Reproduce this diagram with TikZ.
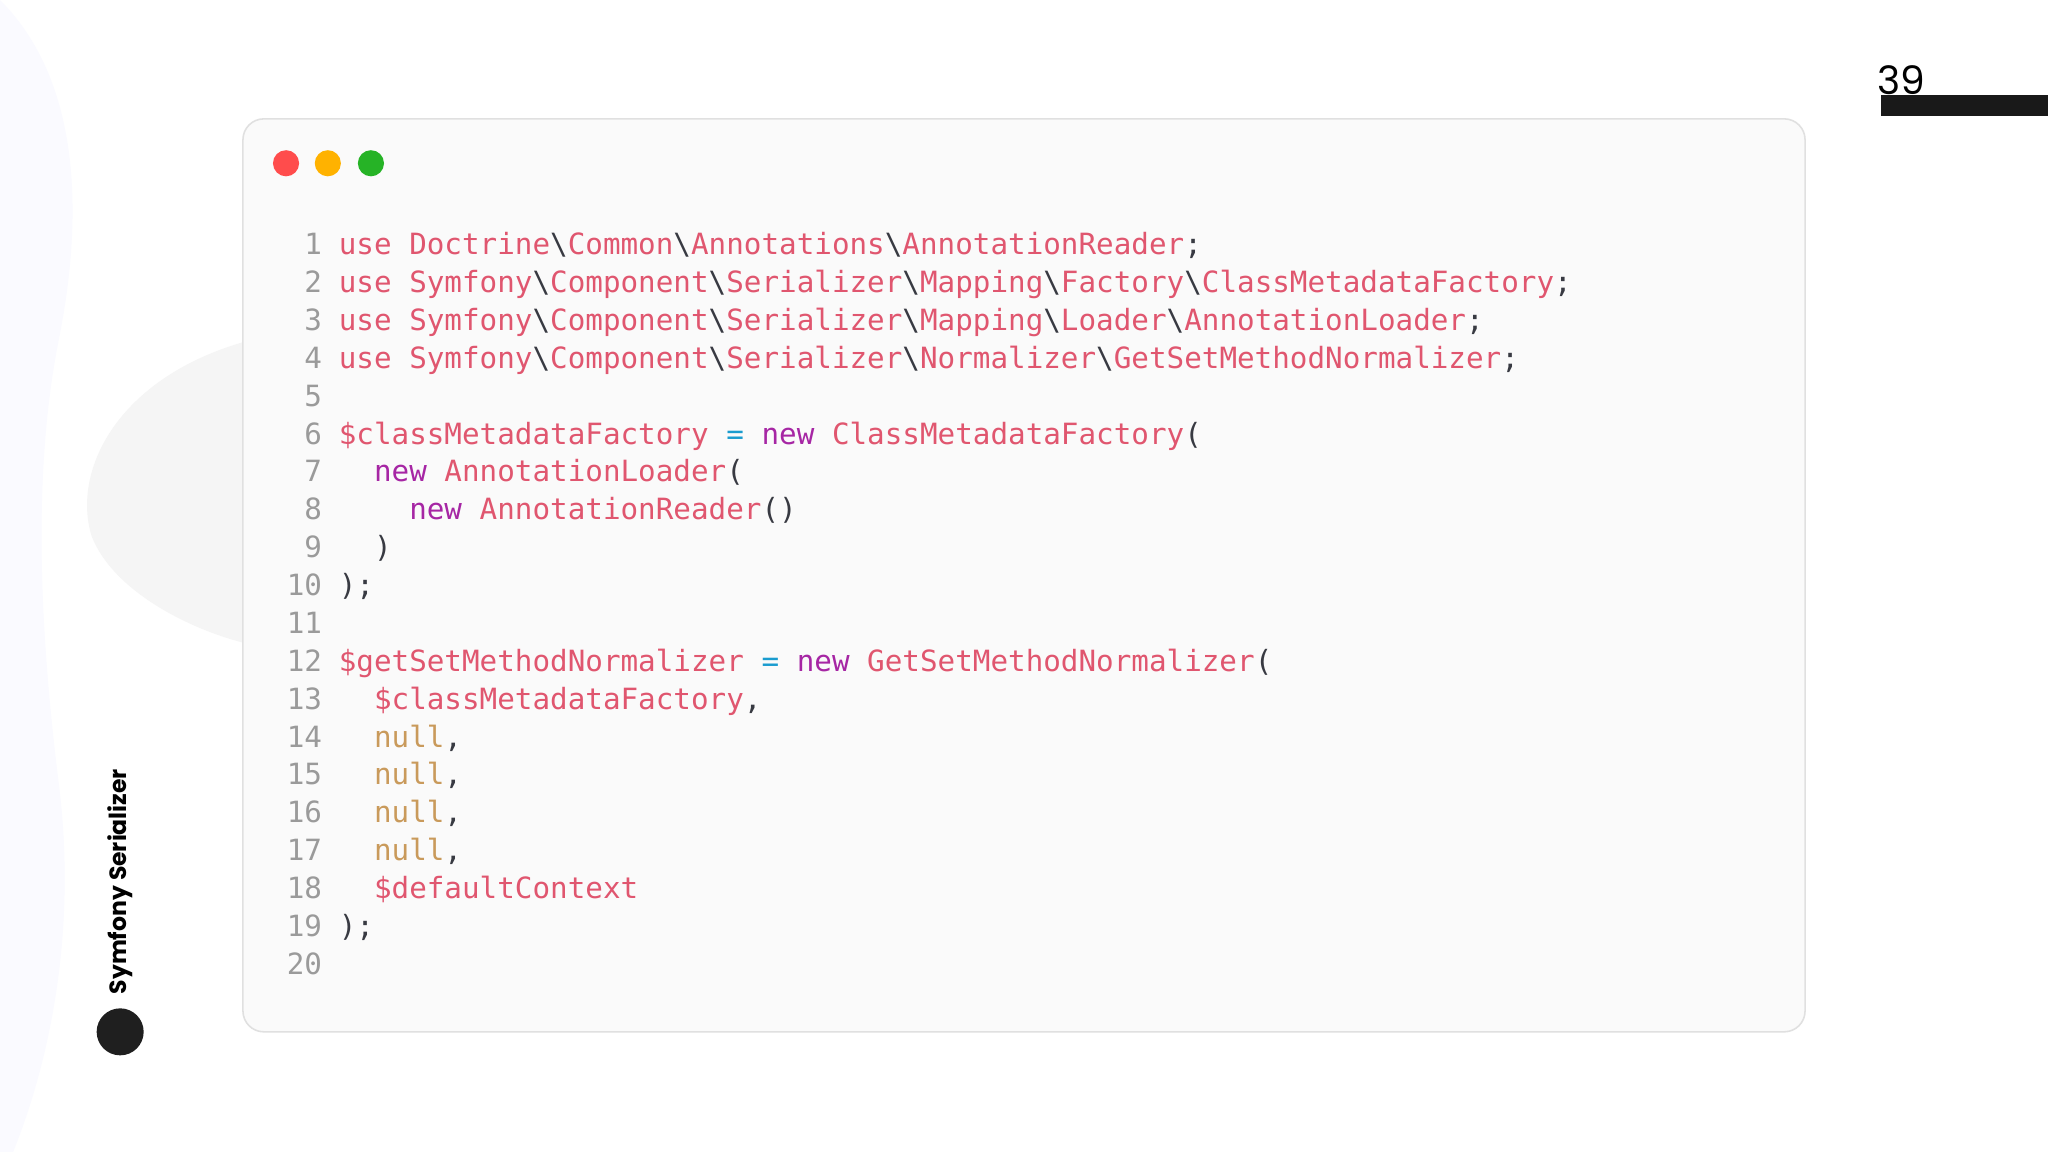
\documentclass[tikz,border=0pt]{standalone}
\usepackage{fontspec}
\setmainfont{Poppins}
\newfontfamily\codefont{DejaVu Sans Mono}
\definecolor{kw}{HTML}{A626A4}
\definecolor{idc}{HTML}{E0566F}
\definecolor{pun}{HTML}{383A42}
\definecolor{nul}{HTML}{C99A5B}
\definecolor{eqc}{HTML}{1A9CCF}
\definecolor{lnc}{HTML}{9A9A9A}
\newcommand{\ck}[1]{\textcolor{kw}{#1}}
\newcommand{\ci}[1]{\textcolor{idc}{#1}}
\newcommand{\cp}[1]{\textcolor{pun}{#1}}
\newcommand{\cn}[1]{\textcolor{nul}{#1}}
\newcommand{\ce}[1]{\textcolor{eqc}{#1}}
\newcommand{\bs}{\cp{\textbackslash}}
\newcommand{\ind}{\phantom{xx}}
\tikzset{
 code/.style={anchor=base west,inner sep=0,font=\codefont\fontsize{11.2}{13}\selectfont},
 lnum/.style={anchor=base east,inner sep=0,text=lnc,font=\codefont\fontsize{11.2}{13}\selectfont},
}
\begin{document}
\begin{tikzpicture}[x=0.5pt,y=-0.5pt]
\useasboundingbox (0,0) rectangle (1568,882);
\fill[white] (0,0) rectangle (1568,882);
% background decorations
\fill[blue!2!white] (0,0) .. controls (60,60) and (65,160) .. (45,260) .. controls (25,360) and (30,480) .. (45,600) .. controls (60,720) and (35,820) .. (10,882) -- (0,882) -- cycle;
\fill[black!4] (186,262) .. controls (90,290) and (55,360) .. (70,410) .. controls (85,450) and (140,480) .. (186,492) -- cycle;
% window
\node (win) [draw=black!12,fill=black!2,rounded corners=8pt,line width=0.6pt,minimum width=598pt,minimum height=349.5pt,inner sep=0] at (784,440.5) {};
\fill[red!70!white] (219,125) circle (10) node (d1) {};
\fill[orange!60!yellow] (251,125) circle (10) node (d2) {};
\fill[green!65!black!85!white] (284,125) circle (10) node (d3) {};
% line numbers
\foreach \n in {1,...,20} \node[lnum] (ln\n) at (247,{195+29*(\n-1)}) {\n};
\node[code] (c1) at (259,195) {\ci{use} \ci{Doctrine}\bs\ci{Common}\bs\ci{Annotations}\bs\ci{AnnotationReader}\cp{;}};
\node[code] (c2) at (259,224) {\ci{use} \ci{Symfony}\bs\ci{Component}\bs\ci{Serializer}\bs\ci{Mapping}\bs\ci{Factory}\bs\ci{ClassMetadataFactory}\cp{;}};
\node[code] (c3) at (259,253) {\ci{use} \ci{Symfony}\bs\ci{Component}\bs\ci{Serializer}\bs\ci{Mapping}\bs\ci{Loader}\bs\ci{AnnotationLoader}\cp{;}};
\node[code] (c4) at (259,282) {\ci{use} \ci{Symfony}\bs\ci{Component}\bs\ci{Serializer}\bs\ci{Normalizer}\bs\ci{GetSetMethodNormalizer}\cp{;}};
\node[code] (c6) at (259,340) {\ci{\$classMetadataFactory} \ce{=} \ck{new} \ci{ClassMetadataFactory}\cp{(}};
\node[code] (c7) at (259,369) {\ind\ck{new} \ci{AnnotationLoader}\cp{(}};
\node[code] (c8) at (259,398) {\ind\ind\ck{new} \ci{AnnotationReader}\cp{()}};
\node[code] (c9) at (259,427) {\ind\cp{)}};
\node[code] (c10) at (259,456) {\cp{);}};
\node[code] (c12) at (259,514) {\ci{\$getSetMethodNormalizer} \ce{=} \ck{new} \ci{GetSetMethodNormalizer}\cp{(}};
\node[code] (c13) at (259,543) {\ind\ci{\$classMetadataFactory}\cp{,}};
\node[code] (c14) at (259,572) {\ind\cn{null}\cp{,}};
\node[code] (c15) at (259,601) {\ind\cn{null}\cp{,}};
\node[code] (c16) at (259,630) {\ind\cn{null}\cp{,}};
\node[code] (c17) at (259,659) {\ind\cn{null}\cp{,}};
\node[code] (c18) at (259,688) {\ind\ci{\$defaultContext}};
\node[code] (c19) at (259,717) {\cp{);}};
% page number
\node (pg) [anchor=base,inner sep=0,font=\fontsize{15}{18}\selectfont] at (1456,72) {39};
\fill[black!90] (1440,73) rectangle (1568,89);
% side label
\node (side) [rotate=90,inner sep=0,font=\bfseries\fontsize{9}{11}\selectfont] at (92,675) {Symfony Serializer};
\fill[black!88] (92,790) circle (18) node (dot) {};
\end{tikzpicture}
\end{document}
